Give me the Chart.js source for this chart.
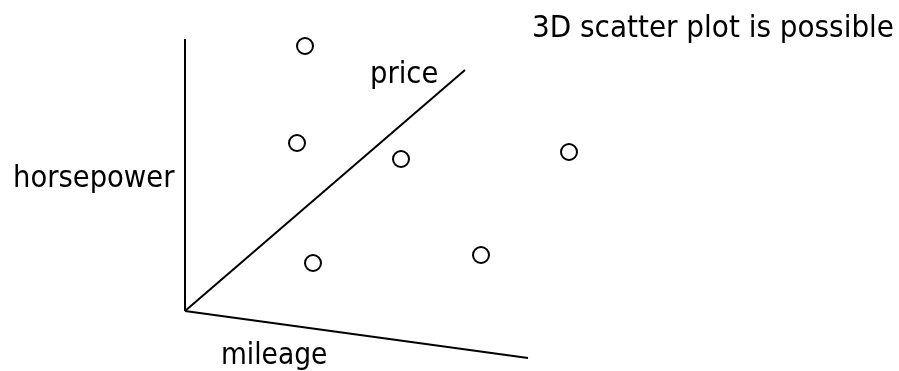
<!DOCTYPE html>
<html>
<head>
<meta charset="utf-8">
<script src="https://cdn.jsdelivr.net/npm/chart.js@4.4.1/dist/chart.umd.min.js"></script>
<style>
  html, body { margin: 0; padding: 0; background: #fff; }
  canvas { display: block; }
</style>
</head>
<body>
<canvas id="chart" width="899" height="371"></canvas>
<script>
// schematic data, origin of the three axes at (0, 0)
const axisNames = ['horsepower', 'price', 'mileage'];
const axisEndX = [0, 280, 343];
const axisEndY = [272, 241, -47];
const carX = [120, 112, 216, 384, 128, 296];
const carY = [265, 168, 152, 159, 48, 56];
const caption = '3D scatter plot is possible';

const FONT = '"DejaVu Sans Condensed", "DejaVu Sans", sans-serif';

// where each text goes, in data units (left edge, baseline)
const textSpots = [
  { text: axisNames[0], x: -172, y: 124, size: 30.5 },
  { text: axisNames[1], x: 185, y: 228, size: 30.5 },
  { text: axisNames[2], x: 36, y: -53, size: 29.5 },
  { text: caption, x: 347, y: 274, size: 31 }
];

const labelPlugin = {
  id: 'labels',
  afterDatasetsDraw(chart) {
    const { ctx, scales } = chart;
    ctx.save();
    ctx.fillStyle = '#000';
    ctx.textAlign = 'left';
    ctx.textBaseline = 'alphabetic';
    textSpots.forEach(t => {
      ctx.font = t.size + 'px ' + FONT;
      ctx.fillText(t.text, scales.x.getPixelForValue(t.x), scales.y.getPixelForValue(t.y));
    });
    ctx.restore();
  }
};

const axisSets = axisNames.map((name, i) => ({
  label: name,
  data: [{ x: 0, y: 0 }, { x: axisEndX[i], y: axisEndY[i] }],
  showLine: true,
  borderColor: '#000',
  borderWidth: 2,
  pointRadius: 0,
  clip: false
}));

const cars = {
  label: 'cars',
  data: carX.map((x, i) => ({ x: x, y: carY[i] })),
  pointStyle: 'circle',
  pointRadius: 8,
  borderColor: '#000',
  borderWidth: 2,
  backgroundColor: 'rgba(0,0,0,0)',
  clip: false
};

new Chart(document.getElementById('chart'), {
  type: 'scatter',
  data: { datasets: [...axisSets, cars] },
  options: {
    responsive: false,
    animation: false,
    layout: { padding: 0, autoPadding: false },
    plugins: { legend: { display: false }, tooltip: { enabled: false } },
    scales: {
      x: { type: 'linear', min: -185, max: 714, display: false },
      y: { type: 'linear', min: -60, max: 311, display: false }
    }
  },
  plugins: [labelPlugin]
});
</script>
</body>
</html>
